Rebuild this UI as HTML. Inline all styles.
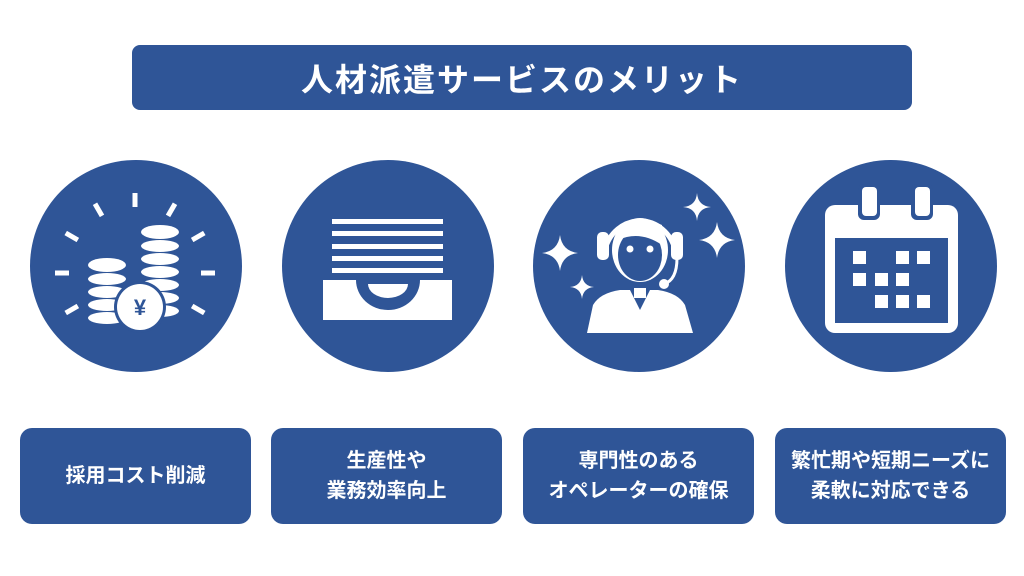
<!DOCTYPE html><html><head><meta charset="utf-8"><style>
body{margin:0;width:1024px;height:576px;background:#fff;overflow:hidden;position:relative;font-family:"Liberation Sans","Noto Sans CJK JP",sans-serif}
.t{position:absolute;left:132px;top:45px;width:780px;height:65px;background:#2f5597;border-radius:8px;color:#fff;font-size:32px;font-weight:bold;display:flex;align-items:center;justify-content:center;letter-spacing:2px}
.b{position:absolute;top:428px;width:231px;height:96px;background:#2f5597;border-radius:12px;color:#fff;font-size:20px;font-weight:bold;display:flex;align-items:center;justify-content:center;text-align:center;line-height:1.5}
svg{position:absolute;left:0;top:0}
</style></head><body>
<div class="t">人材派遣サービスのメリット</div>
<svg width="1024" height="576">
<g fill="#2f5597"><circle cx="136" cy="266" r="106"/><circle cx="388" cy="266" r="106"/><circle cx="639" cy="266" r="106"/><circle cx="891" cy="266" r="106"/></g>
<g stroke="#fff" stroke-width="5" fill="none">
<g transform="translate(135,273)">
<line x1="0" y1="-80" x2="0" y2="-66"/><line x1="0" y1="-80" x2="0" y2="-66" transform="rotate(30)"/><line x1="0" y1="-80" x2="0" y2="-66" transform="rotate(-30)"/><line x1="0" y1="-80" x2="0" y2="-66" transform="rotate(60)"/><line x1="0" y1="-80" x2="0" y2="-66" transform="rotate(-60)"/><line x1="0" y1="-80" x2="0" y2="-66" transform="rotate(90)"/><line x1="0" y1="-80" x2="0" y2="-66" transform="rotate(-90)"/><line x1="0" y1="-80" x2="0" y2="-66" transform="rotate(120)"/><line x1="0" y1="-80" x2="0" y2="-66" transform="rotate(-120)"/>
</g></g>
<g fill="#fff">
<ellipse cx="160" cy="232" rx="19" ry="7"/><ellipse cx="160" cy="246" rx="19" ry="6"/><ellipse cx="160" cy="259" rx="19" ry="6"/><ellipse cx="160" cy="272" rx="19" ry="6"/><ellipse cx="160" cy="285" rx="19" ry="6"/><ellipse cx="160" cy="298" rx="19" ry="6"/><ellipse cx="160" cy="311" rx="19" ry="6"/>
<ellipse cx="107" cy="265" rx="19" ry="7"/><ellipse cx="107" cy="279" rx="19" ry="6"/><ellipse cx="107" cy="292" rx="19" ry="6"/><ellipse cx="107" cy="305" rx="19" ry="6"/><ellipse cx="107" cy="318" rx="19" ry="6"/>
</g>
<circle cx="140" cy="307" r="26" fill="#2f5597"/><circle cx="140" cy="307" r="23" fill="#fff"/>
<text x="140" y="315" fill="#2f5597" font-size="22" font-weight="bold" text-anchor="middle" font-family="Liberation Sans,Noto Sans CJK JP,sans-serif">¥</text>
<g fill="#fff"><rect x="332" y="219" width="111" height="5"/><rect x="332" y="231" width="111" height="5"/><rect x="332" y="244" width="111" height="5"/><rect x="332" y="256" width="111" height="5"/><rect x="332" y="268" width="111" height="5"/>
<rect x="323" y="280" width="129" height="40"/></g>
<path d="M356 280 A32 30 0 0 0 420 280Z" fill="#2f5597"/>
<path d="M368 284 A20 14 0 0 0 408 284Z" fill="#fff"/>
<path d="M587 333 L593 305 Q600 293 620 290 L658 290 Q678 293 685 305 L693 333Z" fill="#fff"/>
<path d="M630 290 L640 310 L650 290Z" fill="#2f5597"/>
<rect x="634" y="288" width="12" height="10" fill="#fff"/>
<ellipse cx="640" cy="250" rx="28" ry="32" fill="#fff"/>
<ellipse cx="640" cy="255" rx="22" ry="26" fill="#2f5597"/>
<path d="M618 240 Q640 230 662 245 L662 225 Q640 215 618 228Z" fill="#fff"/>
<circle cx="630" cy="249" r="3.5" fill="#fff"/><circle cx="650" cy="249" r="3.5" fill="#fff"/>
<path d="M605 250 A36 38 0 0 1 675 250" stroke="#fff" stroke-width="5" fill="none"/>
<rect x="597" y="232" width="12" height="28" rx="5" fill="#fff"/><rect x="671" y="232" width="12" height="28" rx="5" fill="#fff"/>
<path d="M677 258 Q677 280 664 284" stroke="#fff" stroke-width="3" fill="none"/><circle cx="664" cy="284" r="5" fill="#fff"/>
<g fill="#fff">
<path d="M560 235 Q562 251 578 253 Q562 255 560 271 Q558 255 542 253 Q558 251 560 235Z"/>
<path d="M582 275 Q583 286 594 287 Q583 288 582 299 Q581 288 570 287 Q581 286 582 275Z"/>
<path d="M697 193 Q698 206 711 207 Q698 208 697 221 Q696 208 683 207 Q696 206 697 193Z"/>
<path d="M717 222 Q719 238 735 240 Q719 242 717 258 Q715 242 699 240 Q715 238 717 222Z"/>
</g>
<rect x="825" y="205" width="133" height="128" rx="10" fill="#fff"/>
<rect x="835" y="238" width="113" height="85" fill="#2f5597"/>
<rect x="858" y="184" width="22" height="36" rx="6" fill="#2f5597"/><rect x="862" y="187" width="15" height="29" rx="4" fill="#fff"/>
<rect x="911" y="184" width="22" height="36" rx="6" fill="#2f5597"/><rect x="915" y="187" width="15" height="29" rx="4" fill="#fff"/>
<g fill="#fff">
<rect x="853" y="251" width="13" height="13"/><rect x="896" y="251" width="13" height="13"/><rect x="917" y="251" width="13" height="13"/>
<rect x="853" y="273" width="13" height="13"/><rect x="875" y="273" width="13" height="13"/><rect x="896" y="273" width="13" height="13"/>
<rect x="875" y="295" width="13" height="13"/><rect x="896" y="295" width="13" height="13"/><rect x="917" y="295" width="13" height="13"/>
</g>
</svg>
<div class="b" style="left:20px">採用コスト削減</div>
<div class="b" style="left:271px">生産性や<br>業務効率向上</div>
<div class="b" style="left:523px">専門性のある<br>オペレーターの確保</div>
<div class="b" style="left:775px">繁忙期や短期ニーズに<br>柔軟に対応できる</div>
</body></html>
